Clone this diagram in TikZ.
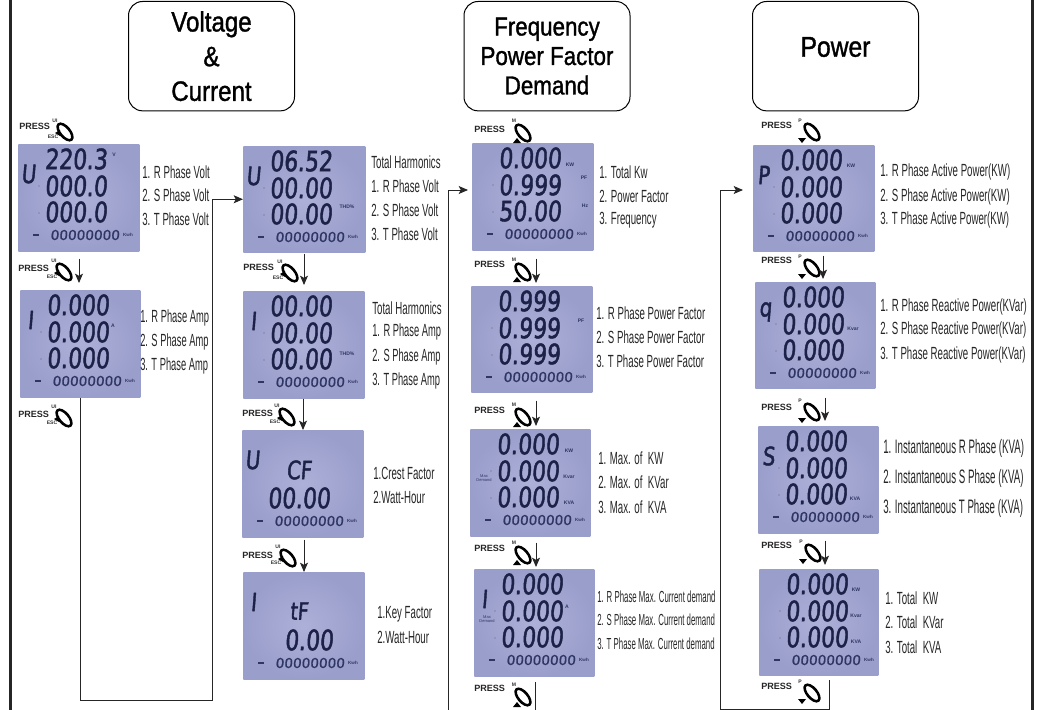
\documentclass[tikz,border=0pt]{standalone}
\usepackage{fontspec}
\usetikzlibrary{arrows.meta,shapes.geometric}
\setmainfont{Liberation Sans}
\newfontfamily\lblfont[FakeStretch=0.55]{Liberation Sans}
\newfontfamily\lblamp[FakeStretch=0.53]{Liberation Sans}
\newfontfamily\lblnarrow[FakeStretch=0.49]{Liberation Sans}
\newfontfamily\lblwide[FakeStretch=0.5]{Liberation Sans}
\newfontfamily\headfont[FakeStretch=0.86,FakeBold=1.2]{Liberation Sans}
\newfontfamily\lcdfont[FakeSlant=0.08,FakeStretch=0.78,FakeBold=1.6]{DejaVu Sans}
\newfontfamily\lcdsmall[FakeSlant=0.08,FakeStretch=1.0,FakeBold=0.8]{DejaVu Sans}
\definecolor{lcdbg}{HTML}{9A9ECB}
\definecolor{lcdlight}{HTML}{ADB0D8}
\definecolor{lcdink}{HTML}{1B2147}
\definecolor{lcdsoft}{HTML}{2F3663}
\definecolor{lblink}{HTML}{262626}
\tikzset{
  x=0.75pt,y=-0.75pt,
  lcdbox/.style={rectangle,inner color=lcdlight,outer color=lcdbg,draw=none,inner sep=0pt,anchor=north west},
  lcdnum/.style={inner sep=0pt,text=lcdink,font=\lcdfont\fontsize{21}{21}\selectfont},
  lcdbot/.style={inner sep=0pt,text=lcdsoft,font=\lcdsmall\fontsize{10.2}{10.2}\selectfont},
  lcdsym/.style={inner sep=0pt,text=lcdink,font=\lcdfont\fontsize{19}{19}\selectfont},
  lcdunit/.style={inner sep=0pt,text=lcdsoft,font=\bfseries\fontsize{3.8}{4}\selectfont,align=center},
  lcdtiny/.style={inner sep=0pt,text=lcdsoft,font=\fontsize{3}{3.4}\selectfont,align=center},
  lcdkwh/.style={inner sep=0pt,text=lcdsoft,font=\bfseries\fontsize{3.4}{3.4}\selectfont},
  lbl/.style={inner sep=0pt,anchor=west,text=lblink,font=\lblfont\fontsize{13.2}{13.2}\selectfont},
  lblampst/.style={lbl,font=\lblamp\fontsize{13.2}{13.2}\selectfont},
  lblsmall/.style={lbl,font=\lblnarrow\fontsize{12}{12}\selectfont},
  lblbig/.style={lbl,font=\lblwide\fontsize{14.6}{14.6}\selectfont},
  headbox/.style={rectangle,draw=black,line width=0.75pt,rounded corners=10.5pt,anchor=north west,
     minimum width=124.5pt,minimum height=82pt,inner sep=0pt,align=center,font=\headfont\fontsize{21}{21}\selectfont},
  presstxt/.style={inner sep=0pt,anchor=west,font=\bfseries\fontsize{6.8}{7}\selectfont,text=black!85},
  keytxt/.style={inner sep=0pt,font=\bfseries\fontsize{3.8}{4}\selectfont,text=black!80},
  ringnode/.style={ellipse,draw=black,line width=1.9pt,minimum width=15pt,minimum height=7.2pt,inner sep=0pt,rotate=-50},
  flowline/.style={draw=black!85,line width=0.75pt},
  flowtip/.style={flowline,-{Stealth[length=7pt,width=6pt,inset=1.6pt]}},
  frameline/.style={draw=black!85,line width=2.25pt}
}
% an LCD panel: name, x, y, width, height, big letter
\newcommand\lcdpanel[6]{%
  \node[lcdbox,minimum width=#4*0.75pt,minimum height=#5*0.75pt] (#1) at (#2,#3) {};
  \node[lcdsym] (#1l) at ([shift={(10.5,30)}]#1.north west) {#6};
  \node[lcdbot] (#1b) at ([shift={(67,91)}]#1.north west) {00000000};
  \node[lcdkwh] (#1k) at ([shift={(110,91)}]#1.north west) {Kwh};
  \fill[lcdsoft] ([shift={(15,90.3)}]#1.north west) rectangle ([shift={(21,91.7)}]#1.north west);
}
\newcommand\lcdrow[5]{\node[lcdnum] (#1#2) at ([shift={(#3,#4)}]#1.north west) {#5};}
\newcommand\lcdrows[4]{%
  \lcdrow{#1}{r1}{58}{15}{#2}%
  \lcdrow{#1}{r2}{58}{42}{#3}%
  \lcdrow{#1}{r3}{58}{68}{#4}%
  \fill[lcdsoft!60] ([shift={(21,42)}]#1.north west) circle (0.9);
  \fill[lcdsoft!60] ([shift={(21,69)}]#1.north west) circle (0.9);
}
\newcommand\lcdunit[5]{\node[lcdunit] (#1#2) at ([shift={(#3,#4)}]#1.north west) {#5};}
% PRESS group: name, press x, press y, ring x, ring y, key decoration
\newcommand\keyUI{%
  \node[keytxt] (\pn a) at (-10,-11) {UI};
  \node[keytxt] (\pn b) at (-12,5) {ESC};
  \fill[black] (-5,-2) -- (-10,1) -- (-5,4) -- cycle;
}
\newcommand\keyM{%
  \node[keytxt] (\pn a) at (-9,-12) {M};
  \fill[black] (-6,5) -- (-10,10) -- (-2,10) -- cycle;
}
\newcommand\keyP{%
  \node[keytxt] (\pn a) at (-12,-11) {P};
  \fill[black] (-14,6) -- (-6,6) -- (-10,11) -- cycle;
}
\newcommand\press[6]{%
  \def\pn{#1}%
  \node[presstxt] (#1t) at (#2,#3) {PRESS};
  \begin{scope}[shift={(#4,#5)}]
    \node[ringnode] (#1r) at (0,0) {};
    #6
  \end{scope}
}
% downward connector: from, to, x coordinate name, gap at start, gap at end
\newcommand\flow[5]{\draw[flowtip,shorten <=#4*0.75pt,shorten >=#5*0.75pt] (#3 |- #1.south) -- (#3 |- #2.north);}
\begin{document}
\begin{tikzpicture}
\useasboundingbox (0,0) rectangle (1042,710);
% frame
\coordinate (fl0) at (10.5,0); \coordinate (fl1) at (10.5,710);
\coordinate (fr0) at (1032,0); \coordinate (fr1) at (1032,710);
\draw[frameline] (fl0) -- (fl1);
\draw[frameline] (fr0) -- (fr1);
% headings
\node[headbox,minimum width=124.5pt] (h1) at (128,1) {Voltage\\[5pt]\&\\[5pt]Current};
\node[headbox,font=\headfont\fontsize{19.5}{19.5}\selectfont] (h2) at (463.5,1) {Frequency\\[2.6pt]Power Factor\\[2.6pt]Demand};
\node[headbox,font=\headfont\fontsize{21.5}{21.5}\selectfont] (h3) at (752,1) {Power\\[-14pt]\strut};
% LCD panels
\lcdpanel{ua}{18}{144}{121}{107}{U}
\lcdrows{ua}{220.3}{000.0}{000.0}
\lcdunit{ua}{u}{96}{11}{V}
\lcdpanel{ia}{20}{290}{120}{107}{I}
\lcdrows{ia}{0.000}{0.000}{0.000}
\lcdunit{ia}{u}{93}{36}{A}
\lcdpanel{ub}{243}{146}{122}{106}{U}
\lcdrows{ub}{06.52}{00.00}{00.00}
\lcdunit{ub}{u}{104}{61}{THD\%}
\lcdpanel{ib}{243}{291}{121}{107}{I}
\lcdrows{ib}{00.00}{00.00}{00.00}
\lcdunit{ib}{u}{104}{63}{THD\%}
\lcdpanel{cf}{242}{430}{121}{107}{U}
\lcdrow{cf}{r1}{57}{40}{{\fontsize{19}{19}\selectfont CF}}
\lcdrow{cf}{r2}{57}{68}{00.00}
\lcdpanel{tf}{243}{572}{121}{107}{I}
\lcdrow{tf}{r1}{56}{39}{{\fontsize{18}{18}\selectfont tF}}
\lcdrow{tf}{r2}{66}{68}{0.00}
\lcdpanel{fa}{472}{143}{121}{107}{}
\lcdrows{fa}{0.000}{0.999}{50.00}
\lcdunit{fa}{u}{98}{22}{KW}
\lcdunit{fa}{v}{112}{35}{PF}
\lcdunit{fa}{w}{113}{63}{Hz}
\lcdpanel{pf}{471}{286}{121}{106}{}
\lcdrows{pf}{0.999}{0.999}{0.999}
\lcdunit{pf}{u}{110}{35}{PF}
\lcdpanel{mx}{470}{429}{120}{107}{}
\lcdrows{mx}{0.000}{0.000}{0.000}
\lcdunit{mx}{u}{99}{22}{KW}
\lcdunit{mx}{v}{99}{48}{Kvar}
\lcdunit{mx}{w}{99}{74}{KVA}
\node[lcdtiny] (mxd) at ([shift={(14,49)}]mx.north west) {Max\\Demand};
\lcdpanel{cu}{474}{569}{120}{107}{I}
\lcdrows{cu}{0.000}{0.000}{0.000}
\lcdunit{cu}{u}{93}{38}{A}
\node[lcdtiny] (cud) at ([shift={(13,50)}]cu.north west) {Max\\Demand};
\lcdpanel{pa}{753}{145}{121}{106}{P}
\lcdrows{pa}{0.000}{0.000}{0.000}
\lcdunit{pa}{u}{98}{21}{KW}
\lcdpanel{qa}{755}{282}{120}{106}{q}
\lcdrows{qa}{0.000}{0.000}{0.000}
\lcdunit{qa}{u}{98}{47}{Kvar}
\lcdpanel{sa}{758}{426}{120}{107}{S}
\lcdrows{sa}{0.000}{0.000}{0.000}
\lcdunit{sa}{u}{97}{73}{KVA}
\lcdpanel{ta}{759}{569}{119}{106}{}
\lcdrows{ta}{0.000}{0.000}{0.000}
\lcdunit{ta}{u}{97}{21}{KW}
\lcdunit{ta}{v}{97}{47}{Kvar}
\lcdunit{ta}{w}{97}{73}{KVA}
% labels
\node[lbl] (l1) at (142,172) {1. R Phase Volt};
\node[lbl] (l2) at (142,195) {2. S Phase Volt};
\node[lbl] (l3) at (142,219) {3. T Phase Volt};
\node[lblampst] (l4) at (140,318) {1. R Phase Amp};
\node[lblampst] (l5) at (140,342) {2. S Phase Amp};
\node[lblampst] (l6) at (140,366) {3. T Phase Amp};
\node[lbl] (l7) at (371,162) {Total Harmonics};
\node[lbl] (l8) at (371,186) {1. R Phase Volt};
\node[lbl] (l9) at (371,210) {2. S Phase Volt};
\node[lbl] (l10) at (371,234) {3. T Phase Volt};
\node[lbl] (l11) at (372,308) {Total Harmonics};
\node[lblampst] (l12) at (372,332) {1. R Phase Amp};
\node[lblampst] (l13) at (372,357) {2. S Phase Amp};
\node[lblampst] (l14) at (372,381) {3. T Phase Amp};
\node[lbl] (l15) at (373,473) {1.Crest Factor};
\node[lbl] (l16) at (373,497) {2.Watt-Hour};
\node[lbl] (l17) at (377,614) {1.Key Factor};
\node[lbl] (l18) at (377,637) {2.Watt-Hour};
\node[lbl] (l19) at (599,172) {1. Total Kw};
\node[lbl] (l20) at (599,196) {2. Power Factor};
\node[lbl] (l21) at (599,220) {3. Frequency};
\node[lbl] (l22) at (596,313) {1. R Phase Power Factor};
\node[lbl] (l23) at (596,337) {2. S Phase Power Factor};
\node[lbl] (l24) at (596,361) {3. T Phase Power Factor};
\node[lbl] (l25) at (598,458) {1. Max. of~~KW};
\node[lbl] (l26) at (598,482) {2. Max. of~~KVar};
\node[lbl] (l27) at (598,507) {3. Max. of~~KVA};
\node[lblsmall] (l28) at (597,597) {1. R Phase Max. Current demand};
\node[lblsmall] (l29) at (597,620) {2. S Phase Max. Current demand};
\node[lblsmall] (l30) at (597,644) {3. T Phase Max. Current demand};
\node[lbl] (l31) at (880,172) {1. R Phase Active Power(KW)};
\node[lbl] (l32) at (880,197) {2. S Phase Active Power(KW)};
\node[lbl] (l33) at (880,220) {3. T Phase Active Power(KW)};
\node[lbl] (l34) at (880,307) {1. R Phase Reactive Power(KVar)};
\node[lbl] (l35) at (880,330) {2. S Phase Reactive Power(KVar)};
\node[lbl] (l36) at (880,355) {3. T Phase Reactive Power(KVar)};
\node[lblbig] (l37) at (883,448) {1. Instantaneous R Phase (KVA)};
\node[lblbig] (l38) at (883,478) {2. Instantaneous S Phase (KVA)};
\node[lblbig] (l39) at (883,508) {3. Instantaneous T Phase (KVA)};
\node[lbl] (l40) at (885,598) {1. Total~~KW};
\node[lbl] (l41) at (885,622) {2. Total~~KVar};
\node[lbl] (l42) at (885,647) {3. Total~~KVA};
% PRESS groups
\press{pa1}{19}{126}{65}{132}{\keyUI}
\press{pa2}{18}{268}{64}{272}{\keyUI}
\press{pa3}{18}{414}{64}{418}{\keyUI}
\press{pb1}{243}{267}{290}{273}{\keyUI}
\press{pb2}{242}{413}{287}{417}{\keyUI}
\press{pb3}{242}{555}{288}{558}{\keyUI}
\press{pc1}{474}{129}{523}{133}{\keyM}
\press{pc2}{474}{264}{523}{272}{\keyM}
\press{pc3}{474}{410}{523}{417}{\keyM}
\press{pc4}{474}{548}{523}{555}{\keyM}
\press{pc5}{474}{688}{523}{697}{\keyM}
\press{pd1}{761}{125}{812}{132}{\keyP}
\press{pd2}{761}{260}{812}{268}{\keyP}
\press{pd3}{761}{407}{812}{412}{\keyP}
\press{pd4}{761}{545}{813}{553}{\keyP}
\press{pd5}{761}{686}{812}{693}{\keyP}
% connectors
\coordinate (xa) at (79,0); \coordinate (xb) at (304,0); \coordinate (xb2) at (303,0);
\coordinate (xc) at (536,0); \coordinate (xd) at (823,0); \coordinate (xd2) at (825,0);
\flow{ua}{ia}{xa}{7}{7}
\flow{ub}{ib}{xb}{1}{6}
\flow{ib}{cf}{xb2}{0}{0}
\flow{cf}{tf}{xb}{2}{0}
\flow{fa}{pf}{xc}{8}{3}
\flow{pf}{mx}{xc}{8}{3}
\flow{mx}{cu}{xc}{6}{2}
\flow{pa}{qa}{xd}{4}{3}
\flow{qa}{sa}{xd2}{9}{5}
\flow{sa}{ta}{xd2}{7}{4}
\coordinate (ja) at (80,700); \coordinate (jb) at (212,700);
\draw[flowtip] (ja |- ia.south) -- (ja) -- (jb) -- (jb |- ub.west) -- (ub.west);
\coordinate (jc) at (448,710); \coordinate (jd) at (448,190);
\draw[flowtip,shorten >=3pt] (jc) -- (jd) -- (jd -| fa.west);
\coordinate (je) at (535,682); \coordinate (jf) at (535,710);
\draw[flowline] (je) -- (jf);
\coordinate (jg) at (829,680); \coordinate (jh) at (829,709); \coordinate (ji) at (720,709); \coordinate (jj) at (720,190);
\draw[flowtip,shorten >=7.5pt] (jg) -- (jh) -- (ji) -- (jj) -- (jj -| pa.west);
\end{tikzpicture}
\end{document}
